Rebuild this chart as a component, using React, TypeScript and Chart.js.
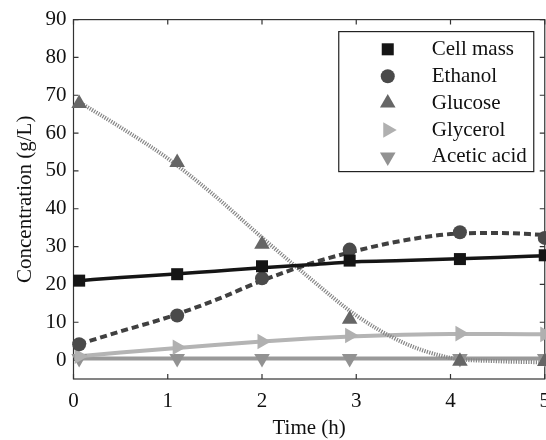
import React, { useEffect, useRef } from 'react';
import { Chart, registerables } from 'chart.js';
import { drawPoint } from 'chart.js/helpers';

Chart.register(...registerables);

// Measured sample times (h) and concentrations (g/L)
const sampleTimes = [0.06, 1.1, 2.0, 2.93, 4.1, 5.0];
const cellMass = [21.0, 22.7, 24.8, 26.3, 26.7, 27.7];
const ethanol = [4.2, 11.8, 21.6, 29.2, 33.8, 32.3];
const glucose = [67.8, 52.2, 30.6, 10.8, -0.3, -0.4];
const glycerol = [1.0, 3.4, 4.9, 6.5, 7.0, 6.8];
const aceticAcid = [0.4, 0.4, 0.4, 0.4, 0.4, 0.4];

// Model curves
const fitTimes = [0.06, 0.5, 1, 1.5, 2, 2.5, 3, 3.5, 4, 4.5, 5];
const cellMassFit = [21.0, 21.8, 22.6, 23.5, 24.4, 25.2, 26.0, 26.3, 26.7, 27.1, 27.6];
const ethanolFit = [4.2, 7.6, 11.3, 15.8, 21.0, 25.4, 28.9, 31.6, 33.3, 33.6, 33.1];
const glucoseFit = [68.2, 61.5, 53.3, 43.4, 32.4, 21.8, 11.8, 4.6, 0.6, -0.3, -0.6];
const glycerolFit = [1.0, 2.0, 3.0, 4.0, 4.9, 5.7, 6.3, 6.7, 6.9, 6.9, 6.8];
const aceticAcidFit = [0.4, 0.4, 0.4, 0.4, 0.4, 0.4, 0.4, 0.4, 0.4, 0.4, 0.4];

const xTickValues = [0, 1, 2, 3, 4, 5];
const yTickValues = [0, 10, 20, 30, 40, 50, 60, 70, 80, 90];
const legendLabels = ['Cell mass', 'Ethanol', 'Glucose', 'Glycerol', 'Acetic acid'];

const FONT = "'Liberation Serif', 'Times New Roman', serif";

const pts = (xs: number[], ys: number[]) => xs.map((x, i) => ({ x, y: ys[i] }));

const framePlugin = {
  id: 'frameTicks',
  beforeDatasetsDraw(chart: any) {
    const { ctx, chartArea, scales } = chart;
    const { left, right, top, bottom } = chartArea;
    const tl = 5;
    ctx.save();
    ctx.strokeStyle = '#333';
    ctx.lineWidth = 1.2;
    ctx.strokeRect(left, top, right - left, bottom - top);
    ctx.beginPath();
    yTickValues.forEach((v) => {
      const y = scales.y.getPixelForValue(v);
      ctx.moveTo(left, y);
      ctx.lineTo(left + tl, y);
      ctx.moveTo(right, y);
      ctx.lineTo(right - tl, y);
    });
    xTickValues.forEach((v) => {
      const x = scales.x.getPixelForValue(v);
      ctx.moveTo(x, bottom);
      ctx.lineTo(x, bottom - tl);
      ctx.moveTo(x, top);
      ctx.lineTo(x, top + tl);
    });
    ctx.stroke();
    ctx.restore();
  },
};

const legendPlugin = {
  id: 'boxLegend',
  afterDatasetsDraw(chart: any) {
    const { ctx, chartArea } = chart;
    const w = 195;
    const h = 140;
    const x0 = chartArea.right - 11 - w;
    const y0 = chartArea.top + 12;
    ctx.save();
    ctx.fillStyle = '#ffffff';
    ctx.fillRect(x0, y0, w, h);
    ctx.strokeStyle = '#222';
    ctx.lineWidth = 1.2;
    ctx.strokeRect(x0, y0, w, h);
    const items = chart.data.datasets.filter((d: any) => legendLabels.includes(d.label));
    items.forEach((ds: any, i: number) => {
      const y = y0 + 17.7 + i * 26.9;
      ctx.fillStyle = ds.pointBackgroundColor;
      drawPoint(
        ctx,
        { pointStyle: ds.pointStyle, rotation: ds.pointRotation || 0, radius: ds.pointRadius, borderWidth: 0 } as any,
        x0 + 49,
        y
      );
      ctx.fillStyle = '#111';
      ctx.font = `21px ${FONT}`;
      ctx.textAlign = 'left';
      ctx.textBaseline = 'middle';
      ctx.fillText(ds.label, x0 + 93, y);
    });
    ctx.restore();
  },
};

export default function App() {
  const ref = useRef<HTMLCanvasElement>(null);

  useEffect(() => {
    if (!ref.current) return;
    const marker = (label: string, ys: number[], color: string, style: string, radius: number, rotation = 0) => ({
      label,
      data: pts(sampleTimes, ys),
      showLine: false,
      pointStyle: style,
      pointRotation: rotation,
      pointRadius: radius,
      pointBackgroundColor: color,
      pointBorderColor: color,
      pointBorderWidth: 0,
      borderColor: color,
      backgroundColor: color,
      clip: false as any,
      order: 0,
    });
    const curve = (label: string, ys: number[], color: string, width: number, dash: number[]) => ({
      label,
      data: pts(fitTimes, ys),
      showLine: true,
      pointRadius: 0,
      borderColor: color,
      borderWidth: width,
      borderDash: dash,
      cubicInterpolationMode: 'monotone' as const,
      fill: false,
      order: 1,
    });

    const chart = new Chart(ref.current, {
      type: 'line',
      data: {
        datasets: [
          marker('Cell mass', cellMass, '#151515', 'rect', 8.5),
          marker('Ethanol', ethanol, '#4a4a4a', 'circle', 7),
          marker('Glucose', glucose, '#666666', 'triangle', 9),
          marker('Glycerol', glycerol, '#b0b0b0', 'triangle', 9, 90),
          marker('Acetic acid', aceticAcid, '#929292', 'triangle', 9, 180),
          curve('Cell mass fit', cellMassFit, '#151515', 3.5, []),
          curve('Ethanol fit', ethanolFit, '#404040', 4, [7, 4]),
          curve('Glucose fit', glucoseFit, '#858585', 4, [1.2, 1.3]),
          curve('Glycerol fit', glycerolFit, '#b4b4b4', 4, []),
          curve('Acetic acid fit', aceticAcidFit, '#999999', 4, []),
        ] as any,
      },
      options: {
        animation: false,
        responsive: false,
        maintainAspectRatio: false,
        layout: { padding: { top: 16, right: 15, left: 0, bottom: 0 } },
        plugins: {
          legend: { display: false },
          tooltip: { enabled: false },
        },
        scales: {
          x: {
            type: 'linear',
            min: 0,
            max: 5,
            afterBuildTicks: (scale: any) => {
              scale.ticks = xTickValues.map((v) => ({ value: v }));
            },
            afterFit: (scale: any) => {
              scale.height = 61;
            },
            grid: { display: false, drawTicks: false },
            border: { display: false },
            ticks: {
              color: '#111',
              padding: 10,
              font: { family: FONT, size: 21 },
              maxRotation: 0,
              callback: (v: any) => String(v),
            },
            title: {
              display: true,
              text: 'Time (h)',
              color: '#111',
              font: { family: FONT, size: 21 },
              padding: { top: 0, bottom: -1.5 },
            },
          },
          y: {
            type: 'linear',
            min: -5,
            max: 90,
            afterBuildTicks: (scale: any) => {
              scale.ticks = yTickValues.map((v) => ({ value: v }));
            },
            afterFit: (scale: any) => {
              scale.width = 73.5;
            },
            grid: { display: false, drawTicks: false },
            border: { display: false },
            ticks: {
              color: '#111',
              padding: 7,
              font: { family: FONT, size: 21 },
              callback: (v: any) => String(v),
            },
            title: {
              display: true,
              text: 'Concentration (g/L)',
              color: '#111',
              font: { family: FONT, size: 21 },
              padding: { top: 13, bottom: 0 },
            },
          },
        },
      },
      plugins: [framePlugin, legendPlugin],
    });
    return () => chart.destroy();
  }, []);

  return (
    <div
      style={{
        position: 'absolute',
        left: 0,
        top: 0,
        width: 546,
        height: 440,
        overflow: 'hidden',
        background: '#fff',
      }}
    >
      <canvas ref={ref} width={560} height={440} />
    </div>
  );
}
